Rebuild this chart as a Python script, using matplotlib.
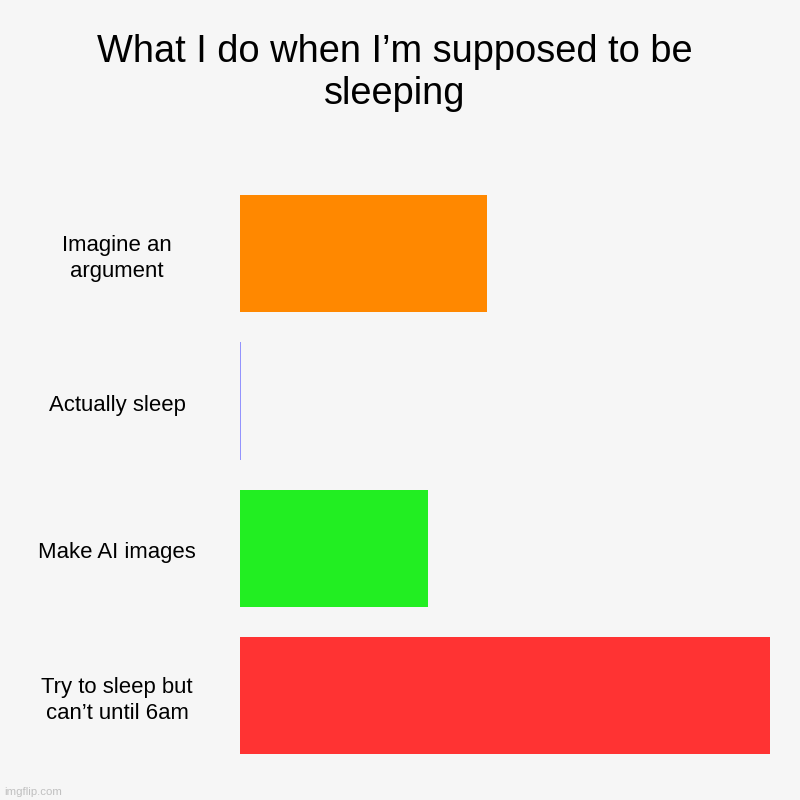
import matplotlib
matplotlib.use("Agg")
import matplotlib.pyplot as plt
from matplotlib.transforms import blended_transform_factory

plt.rcParams['font.family'] = ['Liberation Sans', 'DejaVu Sans']

categories = ["Imagine an\nargument", "Actually sleep", "Make AI images", "Try to sleep but\ncan’t until 6am"]
values = [46.6, 0, 35.5, 100]
colors = ["#FF8800", "#8080FF", "#22EE22", "#FF3333"]
title = "What I do when I’m supposed to be\nsleeping"

bg = "#F6F6F6"
fig = plt.figure(figsize=(8, 8), dpi=100, facecolor=bg)
ax = fig.add_axes([0.3, 0.038, 0.6625, 0.737])
ax.set_facecolor(bg)

ypos = list(range(len(categories)))
for y, v, c in zip(ypos, values, colors):
    if v == 0:
        ax.plot([0, 0], [y - 0.4, y + 0.4], color=c, lw=1.2, solid_capstyle='butt')
    else:
        ax.barh(y, v, height=0.795, color=c, edgecolor='none')

ax.set_xlim(0, max(values))
ax.set_ylim(len(categories) - 0.5, -0.5)
ax.axis('off')

trans = blended_transform_factory(fig.transFigure, ax.transData)
for y, lab in zip(ypos, categories):
    ax.text(117 / 800, y + 0.03, lab, transform=trans, ha='center', va='center',
            fontsize=15.9, color='#000000', linespacing=1.3)

fig.text(394.5 / 800, 1 - 73 / 800, title, ha='center', va='center', fontsize=27.4,
         color='#000000', linespacing=1.2)
fig.text(4 / 800, 1 - 792 / 800, "imgflip.com", ha='left', va='center',
         fontsize=8.2, color='#C0C0C0')

fig.savefig("out.png", dpi=100, facecolor=bg)
